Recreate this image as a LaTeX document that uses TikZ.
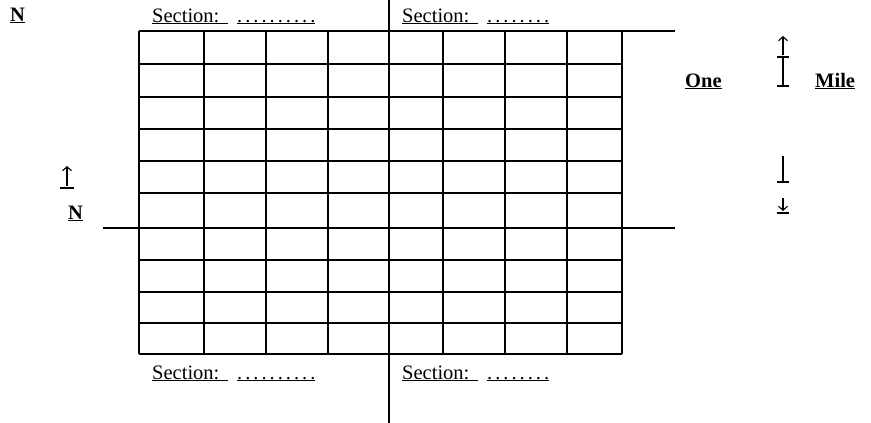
\documentclass[tikz,border=0pt]{standalone}
\usepackage{fontspec}
\setmainfont{Liberation Serif}
\usetikzlibrary{arrows.meta}
\newcommand{\dotrow}[1]{\foreach \k in {1,...,#1}{\ifnum\k>1 \kern3pt\fi.}}
\begin{document}
\begin{tikzpicture}[x=1pt,y=-1pt,
  gridline/.style={line width=1.6pt},
  thinline/.style={line width=1.2pt},
  lbl/.style={font=\fontsize{20.5}{24}\selectfont, inner sep=0pt, anchor=base west},
  blbl/.style={lbl, font=\fontsize{20.5}{24}\selectfont\bfseries},
  tickline/.style={line width=1.1pt},
  arr/.style={tickline, -{Straight Barb[length=4pt,width=9pt,line width=1.1pt]}}]
\useasboundingbox (0,0) rectangle (871,423);
% grid rows
\foreach \y in {31,64,97,129,161,193,228,260,292,323,354}
  \draw[gridline] (139,\y) -- (622,\y);
% grid columns
\foreach \x in {139,204,266,328,443,505,567,622}
  \draw[gridline] (\x,31) -- (\x,354);
% central axis and extensions
\draw[thinline] (389,0) -- (389,423);
\draw[thinline] (622,31) -- (675,31);
\draw[thinline] (103,228) -- (139,228);
\draw[thinline] (622,228) -- (675,228);
% labels
\node[blbl] (ntop) at (10,21) {\underline{N}};
\node[lbl] (s1) at (152,22) {\underline{Section:\ \,}};
\node[lbl] (d1) at (237,22) {\underline{\dotrow{10}}};
\node[lbl] (s2) at (402,22) {\underline{Section:\ \,}};
\node[lbl] (d2) at (487,22) {\underline{\dotrow{8}}};
\node[lbl] (s3) at (152,379) {\underline{Section:\ \,}};
\node[lbl] (d3) at (237,379) {\underline{\dotrow{10}}};
\node[lbl] (s4) at (402,379) {\underline{Section:\ \,}};
\node[lbl] (d4) at (487,379) {\underline{\dotrow{8}}};
\node[blbl] (nleft) at (68,219) {\underline{N}};
\node[blbl] (one) at (685,87) {\underline{One}};
\node[blbl] (mile) at (815,87) {\underline{Mile}};
% left north arrow
\coordinate (la0) at (67,186);
\coordinate (la1) at (67,166);
\draw[arr] (la0) -- (la1);
\draw[tickline] (60,188) -- (74,188);
% right scale marks
\coordinate (ua0) at (783,55);
\coordinate (ua1) at (783,36);
\draw[arr] (ua0) -- (ua1);
\draw[tickline] (777,57) -- (789,57);
\draw[tickline] (783,57) -- (783,86);
\draw[tickline] (777,86) -- (789,86);
\draw[tickline] (783,156) -- (783,182);
\draw[tickline] (777,182) -- (789,182);
\coordinate (da0) at (783,198);
\coordinate (da1) at (783,211);
\draw[arr] (da0) -- (da1);
\draw[tickline] (777,213) -- (789,213);
\end{tikzpicture}
\end{document}
